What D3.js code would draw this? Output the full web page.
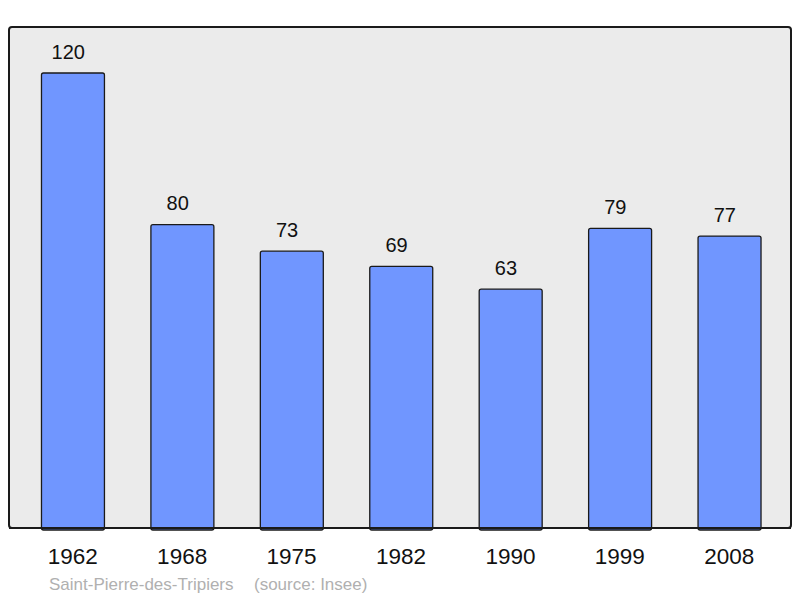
<!DOCTYPE html>
<html>
<head>
<meta charset="utf-8">
<script src="https://cdn.jsdelivr.net/npm/d3@7"></script>
<style>
  body { margin: 0; background: #fff; }
  svg { display: block; font-family: "Liberation Sans", Arial, sans-serif; }
</style>
</head>
<body>
<div id="chart"></div>
<script>
// data
const years = ["1962", "1968", "1975", "1982", "1990", "1999", "2008"];
const population = [120, 80, 73, 69, 63, 79, 77];
const commune = "Saint-Pierre-des-Tripiers";
const source = "(source: Insee)";

const width = 800, height = 598;

const svg = d3.select("#chart").append("svg")
    .attr("width", width)
    .attr("height", height);

// panel background
svg.append("rect")
    .attr("x", 9).attr("y", 27)
    .attr("width", 782).attr("height", 501)
    .attr("rx", 3).attr("ry", 3)
    .attr("fill", "#ebebeb")
    .attr("stroke", "#1a1a1a")
    .attr("stroke-width", 2);

// scales
let x = d3.scaleBand()
    .domain(years)
    .range([18, 784])
    .paddingInner(0.42)
    .paddingOuter(0.21);

let y = d3.scaleLinear()
    .domain([0, 120])
    .range([528, 73]);

let data = years.map((yr, i) => ({year: yr, value: population[i]}));

// bars
svg.append("g").selectAll("rect")
    .data(data)
    .enter().append("rect")
    .attr("x", d => x(d.year) + 0.5)
    .attr("y", d => y(d.value))
    .attr("width", x.bandwidth() - 0.5)
    .attr("height", d => y(0) - y(d.value) + 2)
    .attr("rx", 2).attr("ry", 2)
    .attr("fill", "#7096ff")
    .attr("stroke", "#1a1a1a")
    .attr("stroke-width", 1.3);

// redraw bottom border over bars
svg.append("line")
    .attr("x1", 9).attr("x2", 791)
    .attr("y1", 528).attr("y2", 528)
    .attr("stroke", "#1a1a1a")
    .attr("stroke-width", 2);

// value labels (sit a little left of bar centre, as in the original)
svg.append("g").selectAll("text")
    .data(data)
    .enter().append("text")
    .attr("x", d => x(d.year) + x.bandwidth() / 2 - 4.5)
    .attr("y", d => y(d.value) - 14.5)
    .attr("text-anchor", "middle")
    .attr("font-size", 20)
    .attr("fill", "#111")
    .text(d => d.value);

// year axis
let xAxis = d3.axisBottom(x).tickSize(0).tickPadding(0);
let axisG = svg.append("g")
    .attr("transform", "translate(0,547)")
    .call(xAxis);
axisG.select(".domain").remove();
axisG.selectAll("text")
    .attr("dy", "0.75em")
    .attr("y", 0)
    .attr("font-size", 22.5)
    .attr("font-family", "Liberation Sans, Arial, sans-serif")
    .attr("fill", "#111");

// footer
svg.append("text")
    .attr("x", 49).attr("y", 590)
    .attr("font-size", 17)
    .attr("fill", "#b0b0b0")
    .text(commune);

svg.append("text")
    .attr("x", 254).attr("y", 590)
    .attr("font-size", 17)
    .attr("fill", "#b0b0b0")
    .text(source);
</script>
</body>
</html>
